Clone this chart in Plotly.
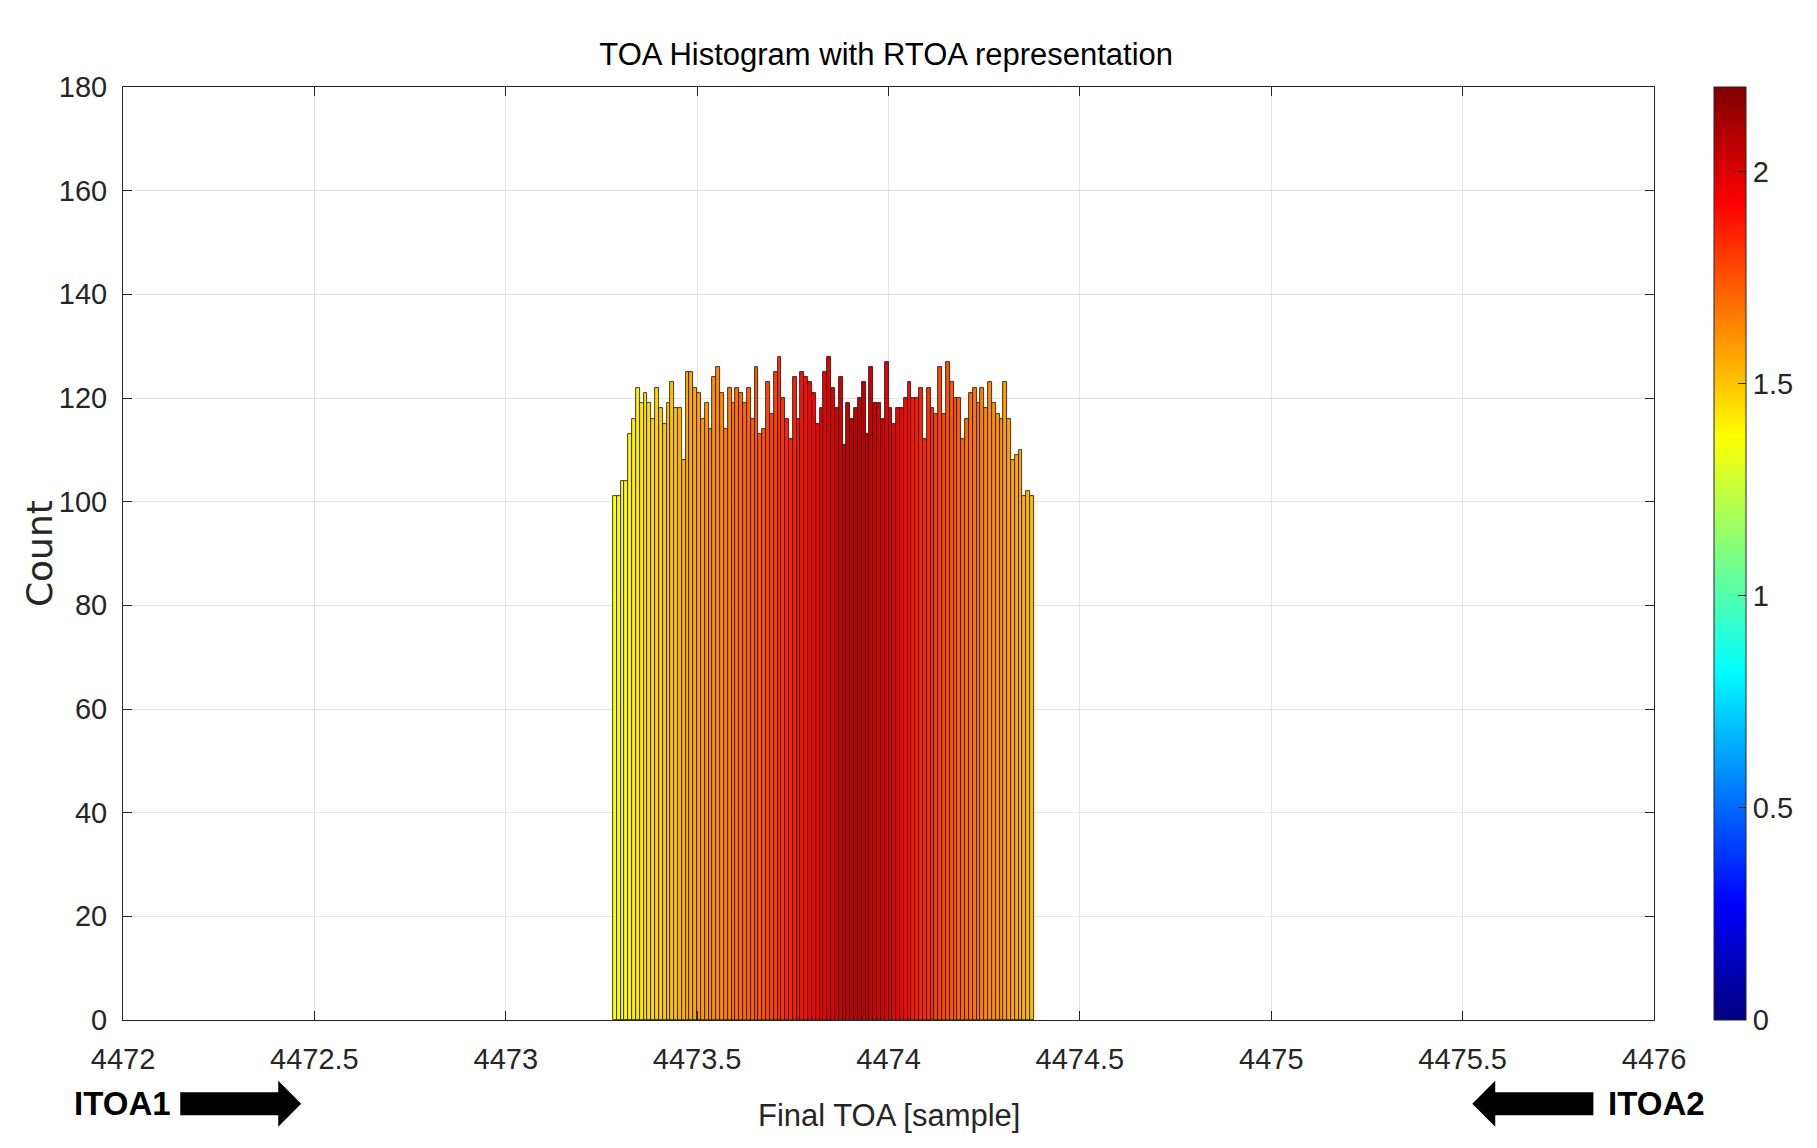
import plotly.graph_objects as go

# histogram bins (Final TOA, sample units)
bin_start = 4473.28
bin_width = 0.01

counts = [
    101, 101, 104, 104, 113, 116, 122, 119, 121, 119,
    116, 122, 118, 115, 119, 123, 118, 118, 108, 125,
    125, 122, 121, 116, 119, 114, 124, 126, 121, 114,
    122, 119, 122, 121, 119, 122, 116, 126, 113, 114,
    123, 117, 125, 128, 120, 116, 112, 124, 116, 125,
    124, 123, 121, 115, 118, 125, 128, 122, 118, 124,
    111, 119, 116, 118, 120, 123, 113, 126, 119, 119,
    116, 127, 118, 115, 118, 118, 120, 123, 120, 120,
    122, 112, 122, 118, 117, 126, 117, 127, 123, 120,
    120, 112, 116, 121, 122, 119, 122, 118, 123, 119,
    117, 116, 123, 116, 108, 109, 110, 101, 102, 101,
]

# RTOA value per bin (colour)
rtoa = [
    1.37, 1.38, 1.38, 1.39, 1.40, 1.41, 1.42, 1.43, 1.44, 1.45,
    1.46, 1.47, 1.48, 1.49, 1.50, 1.51, 1.52, 1.53, 1.54, 1.55,
    1.56, 1.57, 1.58, 1.59, 1.60, 1.61, 1.62, 1.63, 1.64, 1.65,
    1.66, 1.67, 1.68, 1.69, 1.70, 1.71, 1.72, 1.73, 1.74, 1.75,
    1.77, 1.78, 1.79, 1.81, 1.82, 1.84, 1.85, 1.86, 1.88, 1.89,
    1.90, 1.92, 1.93, 1.94, 1.96, 1.97, 1.98, 1.99, 2.01, 2.02,
    2.03, 2.04, 2.05, 2.05, 2.05, 2.05, 2.04, 2.03, 2.02, 2.01,
    2.00, 1.98, 1.97, 1.96, 1.94, 1.93, 1.91, 1.90, 1.88, 1.87,
    1.85, 1.84, 1.82, 1.81, 1.79, 1.78, 1.77, 1.75, 1.74, 1.73,
    1.72, 1.70, 1.69, 1.68, 1.67, 1.66, 1.65, 1.64, 1.63, 1.62,
    1.61, 1.60, 1.59, 1.58, 1.57, 1.56, 1.55, 1.54, 1.53, 1.52,
]

x_ticks = [4472, 4472.5, 4473, 4473.5, 4474, 4474.5, 4475, 4475.5, 4476]
y_ticks = [0, 20, 40, 60, 80, 100, 120, 140, 160, 180]
cbar_ticks = [0, 0.5, 1, 1.5, 2]

bin_centers = [bin_start + bin_width * (i + 0.5) for i in range(len(counts))]

# matlab-style jet
jet = [
    [0.0, 'rgb(0,0,128)'],
    [0.125, 'rgb(0,0,255)'],
    [0.375, 'rgb(0,255,255)'],
    [0.625, 'rgb(255,255,0)'],
    [0.875, 'rgb(255,0,0)'],
    [1.0, 'rgb(128,0,0)'],
]

NARROW = 'Liberation Sans Narrow, Arial Narrow, Liberation Sans, Arial, sans-serif'
AX = '#262626'

fig = go.Figure()
fig.add_trace(go.Bar(
    x=bin_centers,
    y=counts,
    width=bin_width,
    marker=dict(
        color=rtoa,
        colorscale=jet,
        cmin=0,
        cmax=2.2,
        line=dict(color='#111111', width=0.8),
        showscale=True,
        colorbar=dict(
            x=1.0394, xanchor='left', xref='paper', xpad=0,
            y=0.5, yanchor='middle', len=1, lenmode='fraction', ypad=0,
            thickness=32, outlinecolor=AX, outlinewidth=1,
            tickvals=cbar_ticks, ticktext=['0', '0.5', '1', '1.5', '2'],
            ticks='inside', ticklen=8, tickcolor=AX,
            tickfont=dict(family=NARROW, size=29, color=AX),
        ),
    ),
    showlegend=False,
))

axis_common = dict(
    showline=True, linecolor=AX, linewidth=1, mirror='ticks',
    ticks='inside', ticklen=9, tickcolor=AX,
    showgrid=True, gridcolor='#e3e3e3', gridwidth=1,
    zeroline=False,
    tickfont=dict(family=NARROW, size=29, color=AX),
)

fig.update_xaxes(range=[4472, 4476], tickvals=x_ticks,
                 ticktext=[str(v) for v in x_ticks],
                 ticklabelstandoff=13, **axis_common)
fig.update_yaxes(range=[0, 180], tickvals=y_ticks,
                 ticklabelstandoff=9, **axis_common)

# right arrow (ITOA1) and left arrow (ITOA2), paper coords
ay_c, sh, hh = -0.0898, 0.0123, 0.0247
right_arrow = (f"M 0.0374,{ay_c+sh} L 0.1014,{ay_c+sh} L 0.1014,{ay_c+hh} "
               f"L 0.1164,{ay_c} L 0.1014,{ay_c-hh} L 0.1014,{ay_c-sh} "
               f"L 0.0374,{ay_c-sh} Z")
left_arrow = (f"M 0.9604,{ay_c+sh} L 0.8963,{ay_c+sh} L 0.8963,{ay_c+hh} "
              f"L 0.8813,{ay_c} L 0.8963,{ay_c-hh} L 0.8963,{ay_c-sh} "
              f"L 0.9604,{ay_c-sh} Z")
for p in (right_arrow, left_arrow):
    fig.add_shape(type='path', path=p, xref='paper', yref='paper',
                  fillcolor='black', line=dict(color='black', width=0))

fig.add_annotation(text='<b>ITOA1</b>', x=-0.0005, y=ay_c, xref='paper', yref='paper',
                   showarrow=False, xanchor='center', yanchor='middle',
                   font=dict(family='Liberation Sans, Arial, sans-serif', size=33, color='black'))
fig.add_annotation(text='<b>ITOA2</b>', x=1.0016, y=ay_c, xref='paper', yref='paper',
                   showarrow=False, xanchor='center', yanchor='middle',
                   font=dict(family='Liberation Sans, Arial, sans-serif', size=33, color='black'))

# axis labels
fig.add_annotation(text='Final TOA [sample]', x=0.5, y=-0.1024, xref='paper', yref='paper',
                   showarrow=False, xanchor='center', yanchor='middle',
                   font=dict(family=NARROW, size=31, color=AX))
fig.add_annotation(text='Count', x=-0.0545, y=0.5, xref='paper', yref='paper',
                   showarrow=False, xanchor='center', yanchor='middle', textangle=-90,
                   font=dict(family='DejaVu Sans, Verdana, sans-serif', size=36, color=AX))

# page body adds an 8px offset, margins compensate for it
fig.update_layout(
    width=1817, height=1148,
    margin=dict(l=115, r=171, t=79, b=136, autoexpand=False),
    paper_bgcolor='white', plot_bgcolor='white',
    bargap=0,
    title=dict(text='TOA Histogram with RTOA representation',
               x=0.4985, xref='paper', xanchor='center',
               y=1 - 46.5 / 1148, yanchor='middle',
               font=dict(family=NARROW, size=31, color='black')),
)

fig.write_html("out.html")
